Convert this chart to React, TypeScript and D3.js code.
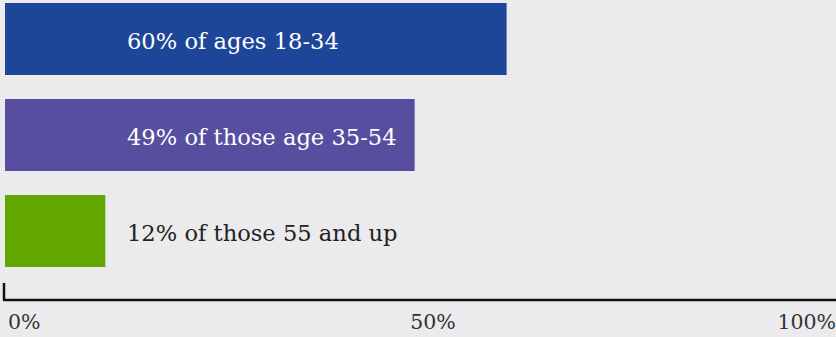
import React from "react";
import * as d3 from "d3";

const categories = ["18-34", "35-54", "55+"];
const values = [60, 49, 12];
const labels = ["60% of ages 18-34", "49% of those age 35-54", "12% of those 55 and up"];
const colors = ["#1d4598", "#574ea0", "#62a600"];
const labelColors = ["#ffffff", "#ffffff", "#222222"];
const tickValues = [0, 50, 100];
const tickLabels = ["0%", "50%", "100%"];

const W = 836;
const H = 337;

export default function App() {
  const x = d3.scaleLinear().domain([0, 100]).range([5, 841]);
  const y = d3.scaleBand<string>().domain(categories).range([3, 267]).paddingInner(0.25).paddingOuter(0);
  const axisY = 300;
  const tickAnchors = ["start", "middle", "end"];
  const tickX = (v: number, i: number) => (i === 0 ? x(v) + 3 : i === 1 ? x(v) + 10 : W);
  return (
    <div style={{ position: "fixed", left: 0, top: 0, width: W, height: H, background: "#ebebed" }}>
      <svg width={W} height={H} style={{ display: "block" }}>
        <rect x={0} y={0} width={W} height={H} fill="#ebebed" />
        {categories.map((c, i) => (
          <g key={c}>
            <rect x={x(0)} y={y(c)} width={x(values[i]) - x(0)} height={y.bandwidth()} fill={colors[i]} />
            <text
              x={127}
              y={(y(c) as number) + y.bandwidth() / 2}
              dy={9.5}
              fill={labelColors[i]}
              fontFamily="DejaVu Serif"
              fontSize={22.6}
            >
              {labels[i]}
            </text>
          </g>
        ))}
        <line x1={3} x2={W} y1={axisY} y2={axisY} stroke="#111" strokeWidth={2.5} />
        <line x1={4} x2={4} y1={283} y2={axisY} stroke="#111" strokeWidth={2.5} />
        {tickValues.map((v, i) => (
          <text
            key={v}
            x={tickX(v, i)}
            y={329}
            textAnchor={tickAnchors[i] as any}
            fill="#333"
            fontFamily="DejaVu Serif"
            fontSize={20.5}
          >
            {tickLabels[i]}
          </text>
        ))}
      </svg>
    </div>
  );
}
